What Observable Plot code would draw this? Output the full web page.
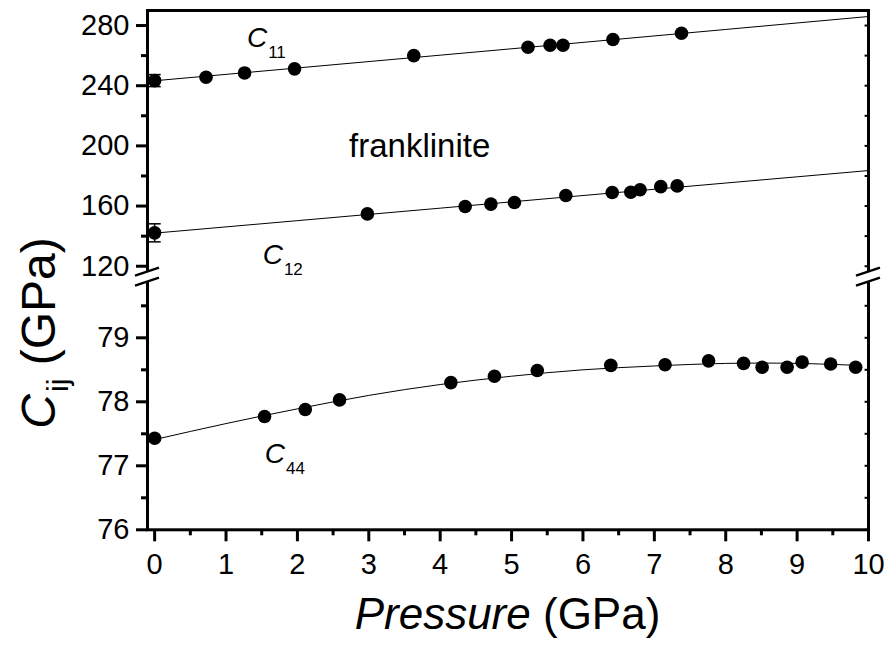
<!DOCTYPE html>
<html><head><meta charset="utf-8">
<script src="https://cdn.jsdelivr.net/npm/d3@7"></script>
<script src="https://cdn.jsdelivr.net/npm/@observablehq/plot@0.6"></script>
<style>body{margin:0;background:#fff}</style>
</head><body><div id="chart"></div>
<script>
// ---- data ----
const pressureC11 = [0, 0.72, 1.26, 1.96, 3.63, 5.23, 5.54, 5.72, 6.42, 7.38];
const valuesC11   = [243.4, 245.6, 248.5, 251.2, 260.0, 265.6, 266.9, 266.9, 270.7, 274.9];
const pressureC12 = [0, 2.98, 4.35, 4.71, 5.04, 5.76, 6.41, 6.67, 6.80, 7.09, 7.32];
const valuesC12   = [142.2, 154.8, 159.7, 161.3, 162.4, 167.0, 169.0, 169.2, 170.8, 172.9, 173.4];
const pressureC44 = [0, 1.54, 2.11, 2.59, 4.15, 4.76, 5.36, 6.39, 7.15, 7.76, 8.25, 8.51, 8.86, 9.07, 9.47, 9.82];
const valuesC44   = [77.43, 77.77, 77.88, 78.03, 78.30, 78.40, 78.49, 78.57, 78.58, 78.64, 78.60, 78.54, 78.54, 78.62, 78.59, 78.54];
const errorC11 = 4;
const errorC12 = 6;
const fitPressure = [0, 2, 4, 6, 8, 10];
const fitC11 = [243.3, 251.8, 260.3, 268.8, 277.4, 286.0];
const fitC12 = [142.0, 150.3, 158.6, 167.0, 175.3, 183.6];
const fitPressureC44 = [0, 1, 2, 3, 4, 5, 6, 7, 8, 9, 9.82];
const fitC44 = [77.41, 77.66, 77.89, 78.10, 78.27, 78.40, 78.50, 78.56, 78.60, 78.60, 78.57];
const xTicks = [0, 1, 2, 3, 4, 5, 6, 7, 8, 9, 10];
const xMinorTicks = [0.5, 1.5, 2.5, 3.5, 4.5, 5.5, 6.5, 7.5, 8.5, 9.5];
const yTicks = [76, 77, 78, 79, 120, 160, 200, 240, 280];
const yMinorTicks = [76.5, 77.5, 78.5, 79.5, 140, 180, 220, 260];
const labels = [
  {main: "C", sub: "11", p: 1.30, v: 265.4},
  {main: "C", sub: "12", p: 1.52, v: 121.4},
  {main: "C", sub: "44", p: 1.55, v: 77.04}
];
const sampleName = {text: "franklinite", p: 2.73, v: 192.3};

// ---- broken y axis: lower segment 76–79.8, upper segment 119–290 ----
const lowerMin = 76, lowerMax = 79.8, upperMin = 119, upperMax = 290;
const upperScale = 1.5044 / 64;   // upper segment compressed relative to lower
const gap = 0.295;                // blank space between segments (axis units)
const brk = v => v < 100 ? v - lowerMin : (lowerMax - lowerMin) + gap + (v - upperMin) * upperScale;
const breakMid = (lowerMax - lowerMin) + gap / 2;

// ---- tables ----
const pts = [
  ...pressureC11.map((p, i) => ({p, v: valuesC11[i]})),
  ...pressureC12.map((p, i) => ({p, v: valuesC12[i]})),
  ...pressureC44.map((p, i) => ({p, v: valuesC44[i]}))
];
const fit11 = fitPressure.map((p, i) => ({p, v: fitC11[i]}));
const fit12 = fitPressure.map((p, i) => ({p, v: fitC12[i]}));
const fit44 = fitPressureC44.map((p, i) => ({p, v: fitC44[i]}));
const errs = [
  {p: pressureC11[0], v: valuesC11[0], e: errorC11},
  {p: pressureC12[0], v: valuesC12[0], e: errorC12}
];
const caps = errs.flatMap(d => [{p: d.p, v: d.v - d.e}, {p: d.p, v: d.v + d.e}]);

const FONT = "'Liberation Sans', Arial, Helvetica, sans-serif";
const Y = d => brk(d.v);
const lineOpts = {x: "p", y: Y, curve: "natural", stroke: "black", strokeWidth: 1};

const plot = Plot.plot({
  width: 890, height: 648,
  marginLeft: 147, marginRight: 22, marginTop: 10, marginBottom: 118.7,
  style: {fontFamily: FONT, background: "white", color: "black", overflow: "visible"},
  x: {domain: [-0.1, 10], axis: null, label: null},
  y: {domain: [0, brk(upperMax)], axis: null, label: null},
  marks: [
    Plot.line(fit11, lineOpts),
    Plot.line(fit12, lineOpts),
    Plot.line(fit44, lineOpts),
    Plot.ruleX(errs, {x: "p", y1: d => brk(d.v - d.e), y2: d => brk(d.v + d.e), stroke: "black", strokeWidth: 1.5}),
    Plot.link(caps, {x1: d => d.p - 0.085, x2: d => d.p + 0.085, y1: Y, y2: Y, stroke: "black", strokeWidth: 1.5}),
    Plot.dot(pts, {x: "p", y: Y, r: 6.8, fill: "black", stroke: "none"}),
    Plot.link([...yTicks, ...yMinorTicks], {x1: 9.945, x2: 10, y1: brk, y2: brk, stroke: "black", strokeWidth: 2}),
    Plot.frame({stroke: "black", strokeWidth: 3}),
    Plot.axisY(yTicks, {y: brk, text: d => String(d), tickSize: 11, tickPadding: 7, fontSize: 29, strokeWidth: 3, label: null}),
    Plot.axisY(yMinorTicks, {y: brk, text: () => "", tickSize: 6, strokeWidth: 3, label: null}),
    Plot.axisX({ticks: xTicks, tickSize: 12, tickPadding: 12, fontSize: 29, strokeWidth: 3, label: null, tickFormat: d => String(d)}),
    Plot.axisX({ticks: xMinorTicks, tickSize: 6, strokeWidth: 3, label: null, tickFormat: () => ""})
  ]
});

document.getElementById("chart").appendChild(plot);

// ---- annotations positioned through the plot's scales ----
const sx = plot.scale("x"), sy = plot.scale("y");
const svg = d3.select(plot);
const ann = svg.append("g").attr("font-family", FONT).attr("fill", "black").attr("text-anchor", "start");

labels.forEach(d => {
  const t = ann.append("text").attr("x", sx.apply(d.p)).attr("y", sy.apply(brk(d.v))).attr("font-size", 28);
  t.append("tspan").attr("font-style", "italic").text(d.main);
  t.append("tspan").attr("font-size", 17).attr("dy", 11).attr("dx", 1).text(d.sub);
});
ann.append("text").attr("x", sx.apply(sampleName.p)).attr("y", sy.apply(brk(sampleName.v)))
  .attr("font-size", 33).text(sampleName.text);

// axis titles
const xMid = (sx.apply(-0.1) + sx.apply(10)) / 2;
const xt = ann.append("text").attr("x", xMid).attr("y", 629).attr("text-anchor", "middle").attr("font-size", 44);
xt.append("tspan").attr("font-style", "italic").text("Pressure");
xt.append("tspan").text(" (GPa)");

const yt = ann.append("text").attr("transform", "translate(55,333) rotate(-90)").attr("text-anchor", "middle").attr("font-size", 48);
yt.append("tspan").attr("font-style", "italic").text("C");
yt.append("tspan").attr("font-size", 30).attr("dy", 13).attr("dx", 2).text("ij");
yt.append("tspan").attr("dy", -13).text(" (GPa)");

// axis break marks
const yMidBreak = sy.apply(breakMid);
[sx.apply(-0.1), sx.apply(10)].forEach(x0 => {
  const g = svg.append("g");
  g.append("polygon")
    .attr("points", [[x0 - 12, yMidBreak - 1], [x0 + 12, yMidBreak - 9], [x0 + 12, yMidBreak + 1], [x0 - 12, yMidBreak + 9]].map(p => p.join(",")).join(" "))
    .attr("fill", "white");
  [-5, 5].forEach(o => {
    g.append("line")
      .attr("x1", x0 - 12).attr("y1", yMidBreak + o + 4)
      .attr("x2", x0 + 12).attr("y2", yMidBreak + o - 4)
      .attr("stroke", "black").attr("stroke-width", 2.5);
  });
});
</script>
</body></html>
